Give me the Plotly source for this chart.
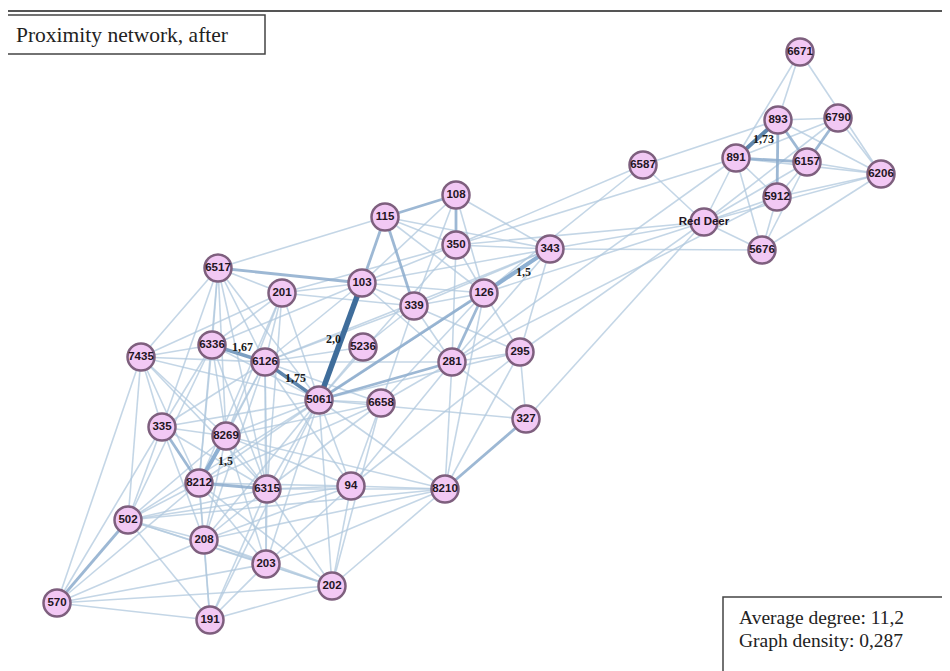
import plotly.graph_objects as go

# node layout (pixel space of the original figure)
node_names = ["6671", "893", "6790", "891", "6157", "6206", "5912", "6587", "Red Deer", "5676",
              "108", "115", "350", "343", "103", "201", "6517", "339", "126", "6336",
              "6126", "7435", "5236", "281", "295", "5061", "6658", "327", "335", "8269",
              "8212", "6315", "94", "8210", "502", "208", "203", "202", "570", "191"]
node_x = [800, 778, 838, 736, 807, 881, 777, 643, 704, 762,
          456, 385, 456, 550, 362, 282, 218, 414, 484, 212,
          265, 141, 363, 452, 520, 319, 381, 526, 162, 226,
          199, 267, 351, 445, 128, 204, 266, 332, 57, 210]
node_y = [52, 120, 118, 158, 162, 174, 197, 165, 222, 250,
          195, 217, 245, 249, 283, 293, 268, 306, 293, 345,
          362, 357, 347, 362, 352, 400, 403, 419, 427, 436,
          483, 489, 486, 489, 520, 540, 564, 586, 603, 620]

# weighted ties (weight > 1)
strong_edges = [("891", "893", 1.73), ("103", "5061", 2.0), ("6336", "6126", 1.67),
                ("6126", "5061", 1.75), ("343", "126", 1.5), ("8269", "8212", 1.5)]
labelled = {("891", "893"): "1,73", ("103", "5061"): "2,0", ("6336", "6126"): "1,67",
            ("6126", "5061"): "1,75", ("343", "126"): "1,5", ("8269", "8212"): "1,5"}

# somewhat stronger ties
medium_edges = [("893", "6157"), ("6790", "6157"), ("891", "6157"), ("108", "115"), ("108", "350"),
                ("115", "103"), ("115", "339"), ("103", "6517"), ("126", "281"), ("281", "5061"),
                ("343", "5061"), ("327", "8210"), ("335", "8212"), ("8212", "6315"), ("502", "570"),
                ("893", "5912")]

# ordinary ties
light_edges = """
6671-893 6671-891 6671-6206 893-6790 893-6206 893-6587 6790-6206 6790-891 6790-Red Deer
891-5912 891-Red Deer 891-5676 891-6206 6157-5912 6157-6206 6157-Red Deer 6157-5676
5912-6206 5912-Red Deer 5912-5676 6206-Red Deer 6206-5676 6587-Red Deer 6587-350 6587-126
Red Deer-343 Red Deer-5676 Red Deer-350 Red Deer-126 Red Deer-295 5676-343 891-350 891-281
Red Deer-327 5912-281
108-343 108-126 108-339 108-103 115-350 115-6517 115-126 115-343
350-343 350-126 350-103 350-201 350-281 350-5061 343-103 343-339 343-281 343-295 343-6126
103-201 103-339 103-126 103-6126 103-6336 103-281 126-339 126-295 126-5061 126-6658 126-8210
339-5236 339-281 339-295 339-6658 339-6126 281-295 281-327 281-8210 281-6658 281-94
295-327 295-8210 295-5061 295-94 327-5061 5236-5061 5236-6126
6517-201 6517-6336 6517-6126 6517-7435 6517-335 6517-8269 6517-5061 6517-8212 6517-6315
201-6126 201-6336 201-5061 201-8269 201-8212 201-7435 201-6315 201-339
6336-7435 6336-335 6336-8269 6336-8212 6336-5061 6336-6315 6336-502
6126-7435 6126-335 6126-8269 6126-8212 6126-6315 6126-94 6126-208 6126-203 6126-6658 6126-281
7435-335 7435-8212 7435-502 7435-570 7435-5061 7435-8269 7435-6315
5061-6658 5061-8269 5061-8212 5061-6315 5061-94 5061-8210 5061-203 5061-208 5061-202
5061-502 5061-335 5061-191
6658-94 6658-8212 6658-6315 6658-202 6658-8269
335-8269 335-502 335-570 335-6315 335-208
8269-6315 8269-94 8269-502 8269-208 8269-203 8269-8210
8212-502 8212-208 8212-203 8212-94 8212-570 8212-191 8212-202
6315-94 6315-203 6315-202 6315-208 6315-502 6315-191 6315-8210
94-8210 94-202 94-203 94-502 94-208
8210-202 8210-203 8210-502 8210-208
502-208 502-191 502-203 502-202
208-203 208-191 208-570 208-202
203-202 203-191 203-570 202-191 202-570 570-191
"""

pos = {n: (x, y) for n, x, y in zip(node_names, node_x, node_y)}

# the page body has an 8px margin, so shift the view to line up with the original pixels
OFF = 8


def parse_edges(txt):
    out = []
    for tok in txt.replace("Red Deer", "RedDeer").split():
        a, b = tok.split("-")
        out.append((a.replace("RedDeer", "Red Deer"), b.replace("RedDeer", "Red Deer")))
    return out


def edge_trace(edges, color, width):
    xs, ys = [], []
    for a, b in edges:
        xs += [pos[a][0], pos[b][0], None]
        ys += [pos[a][1], pos[b][1], None]
    return go.Scatter(x=xs, y=ys, mode="lines", line=dict(color=color, width=width),
                      hoverinfo="skip", showlegend=False)


fig = go.Figure()
fig.add_trace(edge_trace(parse_edges(light_edges), "rgba(176,200,222,0.75)", 1.6))
fig.add_trace(edge_trace(medium_edges, "rgba(140,172,204,0.85)", 2.8))

strong_style = {2.0: ("#3f6d9b", 5.5), 1.75: ("#5e86ae", 3.5), 1.73: ("#5e86ae", 4),
                1.67: ("#7c9fc2", 3.5), 1.5: ("#8eb0d2", 4)}
for a, b, w in strong_edges:
    c, lw = strong_style[w]
    fig.add_trace(edge_trace([(a, b)], c, lw))

label_shift = {("891", "893"): (6, 0), ("103", "5061"): (-7, -3), ("6336", "6126"): (4, -7),
               ("6126", "5061"): (3, -3), ("343", "126"): (6, 1), ("8269", "8212"): (13, 1)}
for (a, b), txt in labelled.items():
    dx, dy = label_shift[(a, b)]
    fig.add_annotation(x=(pos[a][0] + pos[b][0]) / 2 + dx, y=(pos[a][1] + pos[b][1]) / 2 + dy,
                       text="<b>" + txt + "</b>", showarrow=False,
                       font=dict(family="Liberation Serif", size=12, color="#1a1a1a"))

fig.add_trace(go.Scatter(
    x=node_x, y=node_y, mode="markers+text",
    text=["<b>" + n + "</b>" for n in node_names], textposition="middle center",
    textfont=dict(family="Liberation Sans, Arial", size=11.5, color="#231523"),
    marker=dict(size=27, color="#f2c8f4", line=dict(color="#7e5f7e", width=2.5)),
    hoverinfo="text", showlegend=False))

# frame and text boxes
shapes = [
    dict(type="line", x0=0, x1=960, y0=11, y1=11, line=dict(color="#555", width=2)),
    dict(type="line", x0=655, x1=655, y0=3, y1=8, line=dict(color="#666", width=1)),
    dict(type="line", x0=919, x1=919, y0=2, y1=8, line=dict(color="#666", width=1)),
    dict(type="line", x0=922, x1=922, y0=2, y1=8, line=dict(color="#666", width=1)),
    dict(type="rect", x0=5, x1=265, y0=15, y1=54, line=dict(color="#444", width=1.5),
         fillcolor="white"),
    dict(type="rect", x0=723, x1=949, y0=597, y1=680, line=dict(color="#444", width=1.5),
         fillcolor="white"),
]
fig.update_layout(shapes=shapes)
fig.add_annotation(x=14, y=35, xanchor="left", text="Proximity network, after", showarrow=False,
                   font=dict(family="Liberation Serif", size=21.5, color="#222"))
fig.add_annotation(x=737, y=617, xanchor="left", text="Average degree: 11,2", showarrow=False,
                   font=dict(family="Liberation Serif", size=19.5, color="#222"))
fig.add_annotation(x=737, y=640, xanchor="left", text="Graph density: 0,287", showarrow=False,
                   font=dict(family="Liberation Serif", size=19.5, color="#222"))

fig.update_layout(
    width=950, height=671,
    margin=dict(l=0, r=0, t=0, b=0),
    paper_bgcolor="white", plot_bgcolor="white",
    xaxis=dict(range=[OFF, 950 + OFF], visible=False, fixedrange=True),
    yaxis=dict(range=[671 + OFF, OFF], visible=False, fixedrange=True),
)

fig.write_html("out.html")
